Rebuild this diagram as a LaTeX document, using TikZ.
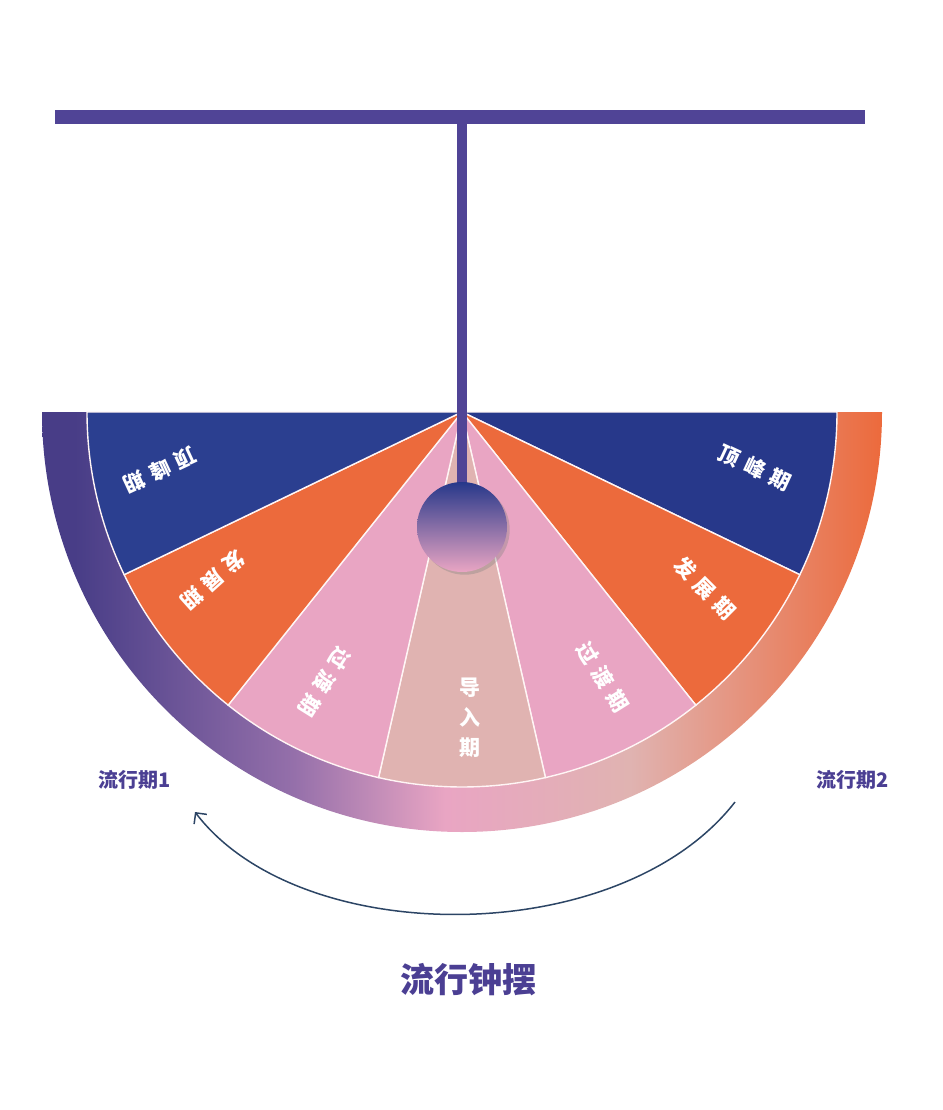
\documentclass[tikz,border=0pt]{standalone}
\usepackage{fontspec}
\setmainfont{Noto Sans CJK SC}
\usetikzlibrary{calc,arrows.meta,shadows}
\definecolor{rod}{HTML}{504496}
\definecolor{peakL}{HTML}{2B3F90}
\definecolor{peakR}{HTML}{27388A}
\definecolor{growc}{HTML}{EC6A3C}
\definecolor{pass}{HTML}{E9A5C3}
\definecolor{intro}{HTML}{E0B3B1}
\definecolor{ttl}{HTML}{4B3F93}
\definecolor{swing}{HTML}{2C4565}
\pgfdeclarehorizontalshading{ringshade}{100bp}{
  color(0bp)=(rod!90!black); color(27bp)=(rod!90!black); color(40bp)=(rod!55!pass);
  color(49bp)=(pass); color(60bp)=(intro); color(75bp)=(growc); color(100bp)=(growc)}
\tikzset{
  wedge/.style={draw=white!85!pink, line width=1.4pt},
  stage/.style={text=white, font=\bfseries\fontsize{21}{30}\selectfont, inner sep=0pt},
  period/.style={text=ttl, font=\bfseries\fontsize{20}{22}\selectfont}
}
\newcommand{\gap}{\hspace{7pt}}
\begin{document}
\begin{tikzpicture}[x=1pt, y=1pt]
        \useasboundingbox (0,0) rectangle (942,-1110);
        \coordinate (c) at (462,-412);

        % ring
        \shade[shading=ringshade]
          (c) ++(0:420) arc (0:-180:420) -- ++(45,0) arc (-180:0:375) -- cycle;

        % wedges
        \foreach \k/\col in {0/peakR,1/growc,2/pass,3/intro,4/pass,5/growc,6/peakL}{
          \filldraw[fill=\col, wedge] (c) -- ++({-\k*180/7}:375) arc ({-\k*180/7}:{-(\k+1)*180/7}:375) -- cycle;
        }

        % stage labels
        \node[stage, rotate=205] (peak1) at (160,-470) {顶\gap 峰\gap 期};
        \node[stage, rotate=222] (grow1) at (213,-580) {发\gap 展\gap 期};
        \node[stage, rotate=238] (pass1) at (325,-682) {过\gap 渡\gap 期};
        \node[stage, align=center] (intro) at (470,-718) {导\\入\\期};
        \node[stage, rotate=-58] (pass2) at (603,-677) {过\gap 渡\gap 期};
        \node[stage, rotate=-45] (grow2) at (705,-588) {发\gap 展\gap 期};
        \node[stage, rotate=-25] (peak2) at (755,-468) {顶\gap 峰\gap 期};

        % pendulum
        \draw[rod, line width=14pt] (55,-117) coordinate (barL) -- (865,-117) coordinate (barR);
        \draw[rod, line width=10pt] (462,-112) coordinate (top) -- (462,-500) coordinate (bob);
        \shade[top color=peakR, bottom color=pass, drop shadow={opacity=0.35}]
          (462,-527) circle (45pt);

        % swing
        \node[period] (p1) at (135,-780) {流行期1};
        \node[period] (p2) at (853,-780) {流行期2};
        \coordinate (sR) at (735,-802);
        \coordinate (sL) at (195,-812);
        \draw[swing, line width=1.5pt, -{Straight Barb[length=8pt,width=16pt]}]
          (sR) .. controls (620,-950) and (300,-950) .. (sL);
        \node[text=ttl, font=\bfseries\fontsize{34}{38}\selectfont] (title) at (468,-980) {流行钟摆};
\end{tikzpicture}
\end{document}
